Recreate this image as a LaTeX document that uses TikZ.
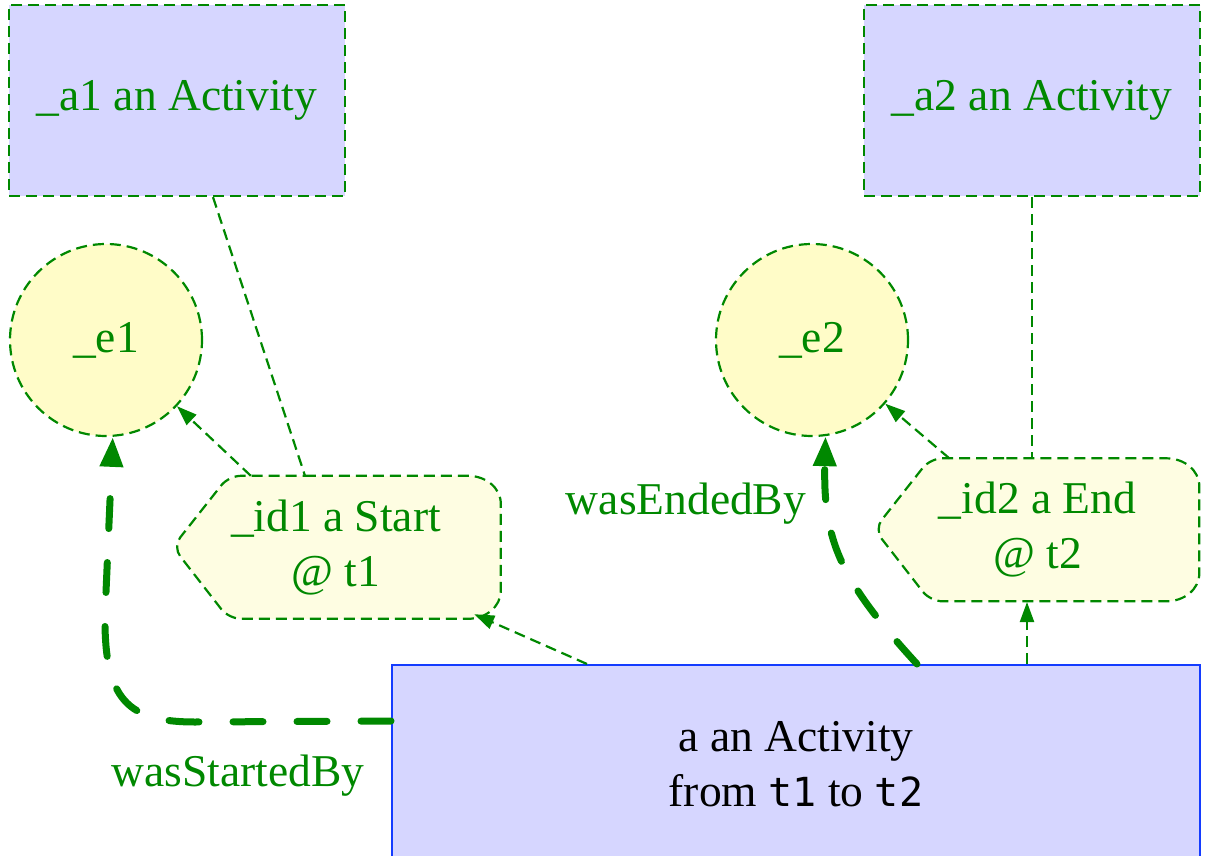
\documentclass[tikz,border=0pt]{standalone}
\usepackage{fontspec}
\setmainfont{Liberation Serif}
\setmonofont{DejaVu Sans Mono}[Scale=0.88]
\usetikzlibrary{arrows.meta,calc,backgrounds}
\definecolor{pgreen}{RGB}{0,136,0}
\definecolor{lav}{RGB}{214,214,255}
\definecolor{ent}{RGB}{255,252,200}
\definecolor{idfill}{RGB}{254,253,226}
\definecolor{actblue}{RGB}{20,60,255}
\begin{document}
\begin{tikzpicture}[x=1pt,y=-1pt,
  every node/.style={font=\fontsize{45.5}{55}\selectfont},
  thindash/.style={draw=pgreen,line width=2.2pt,dash pattern=on 11pt off 6pt},
  thinarrow/.style={thindash,-{Triangle[length=20pt,width=14pt]}},
  thickarrow/.style={draw=pgreen,line width=7pt,dash pattern=on 30pt off 34pt,line cap=round,-{Triangle[length=30pt,width=22pt,line cap=butt]}},
  actbox/.style={rectangle,thindash,fill=lav,text=pgreen,minimum width=336pt,minimum height=191pt,inner sep=0pt},
  entcirc/.style={circle,thindash,fill=ent,text=pgreen,minimum size=192pt,inner sep=0pt},
  idtext/.style={rectangle,draw=none,text=pgreen,align=center,minimum width=326pt,minimum height=143pt,inner sep=0pt},
  idshape/.style={thindash,fill=idfill,rounded corners=12pt},
  mainbox/.style={rectangle,draw=actblue,line width=2pt,fill=lav,text=black,align=center,minimum width=808pt,minimum height=198pt,inner sep=0pt},
  lbl/.style={text=pgreen,inner sep=0pt}]
\useasboundingbox (0,0) rectangle (1208,856);

\node[actbox] (a1) at (177,100.5) {\_a1 an Activity};
\node[actbox] (a2) at (1032,100.5) {\_a2 an Activity};
\node[entcirc] (e1) at (106,340) {\_e1};
\node[entcirc] (e2) at (812,340) {\_e2};
\node[idtext] (id1) at (336,547.5) {\_id1 a Start\\@ t1};
\node[idtext] (id2) at (1037.5,530) {\_id2 a End\\@ t2};
\node[mainbox] (main) at (796,764) {a an Activity\\from \texttt{t1} to \texttt{t2}};

\begin{scope}[on background layer]
\foreach \n/\w in {id1/328,id2/325} {
  \begin{scope}[shift={(\n.north west)}]
    \draw[idshape] (120,0) -- (\w-45,0) .. controls (\w-15,0) and (\w,12) .. (\w,40)
      -- (\w,103) .. controls (\w,131) and (\w-15,143) .. (\w-45,143)
      -- (56,143) -- (0,71) -- (56,0) -- cycle;
  \end{scope}
}
\end{scope}

\draw[thindash] ($(a1.south)+(36,0)$) -- ($(id1.north)+(-31,0)$);
\draw[thindash] (a2.south) -- (a2.south |- id2.north);
\draw[thinarrow] ($(id1.north west)+(78,0)$) -- (e1.-43);
\draw[thinarrow] ($(id2.north west)+(75,0)$) -- (e2.-41);
\draw[thinarrow] ($(main.north west)+(196,0)$) -- ($(id1.south east)+(-25,-5)$);
\draw[thinarrow] ($(main.north west)+(636,0)$) -- ($(main.north west)+(636,-62)$);

\draw[thickarrow] ($(main.north west)+(0,57)$) -- (195,722) .. controls (128,722) and (104,700) .. (105,615) -- (e1.-86);
\draw[thickarrow] ($(main.north west)+(526,0)$) .. controls (840,580) and (823,540) .. (e2.-82);

\node[lbl] (ls) at (238,776) {wasStartedBy};
\node[lbl] (le) at (686,504) {wasEndedBy};
\end{tikzpicture}
\end{document}
